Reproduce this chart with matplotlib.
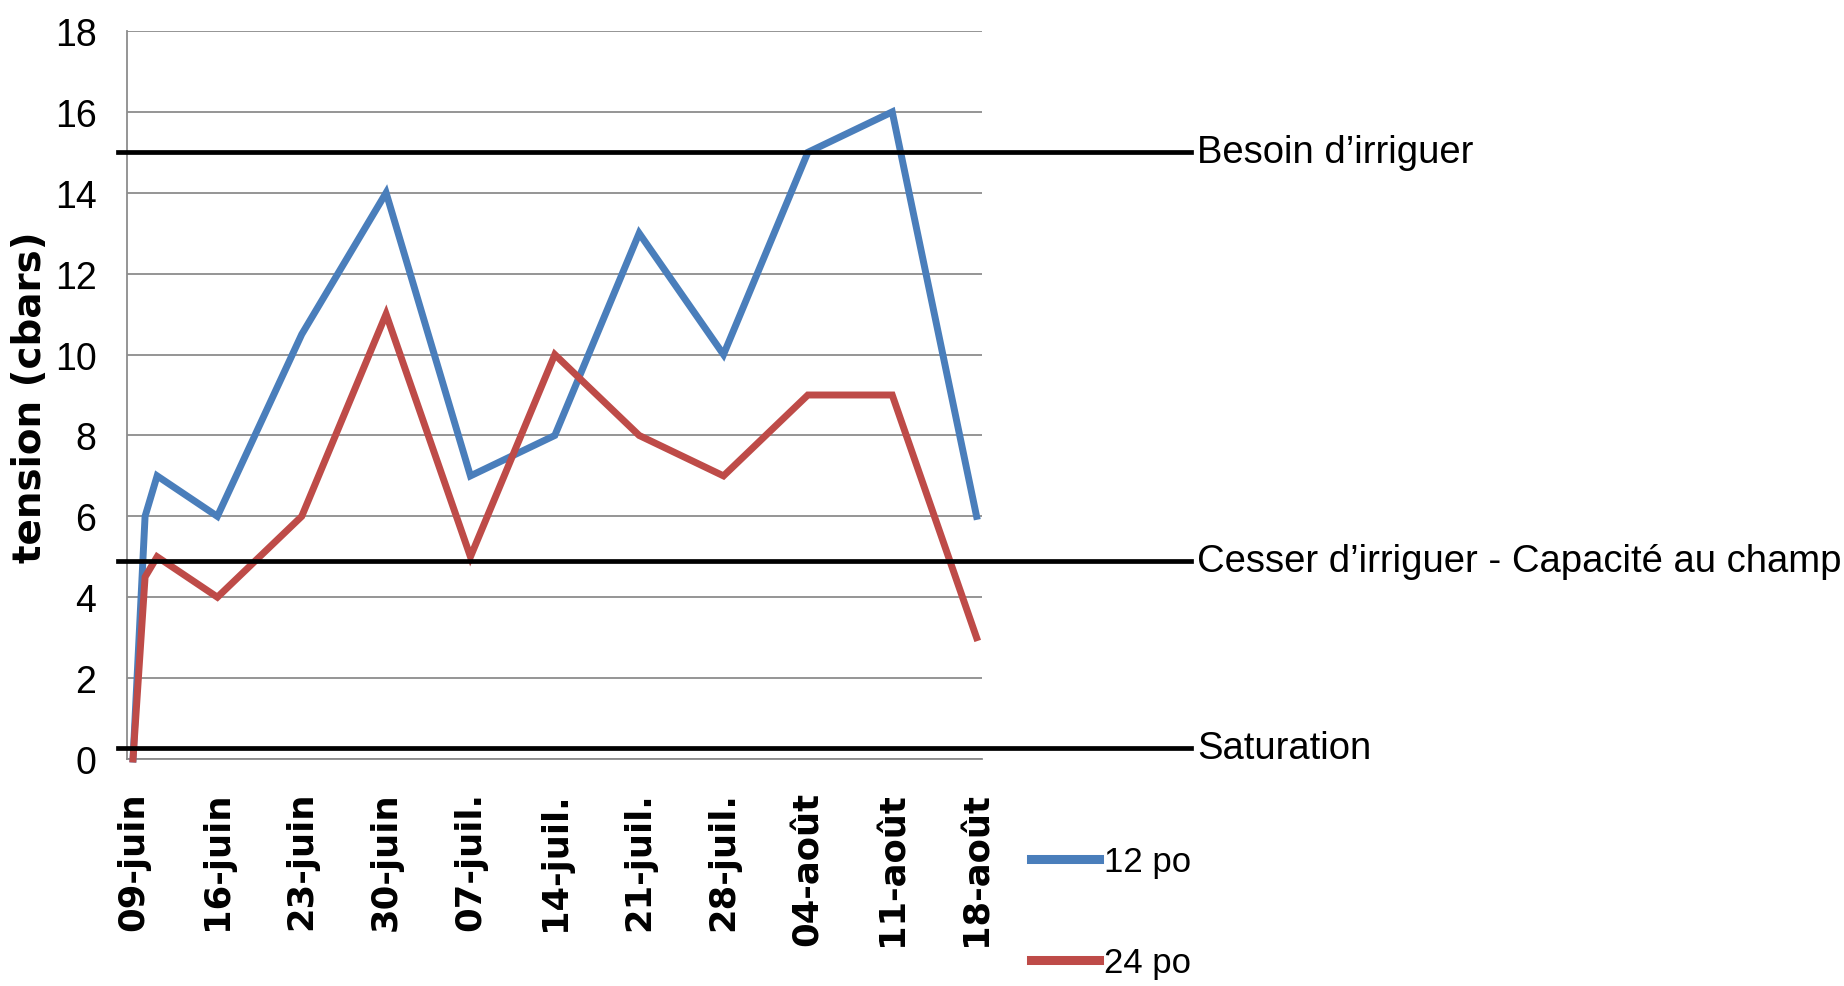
import matplotlib
matplotlib.use("Agg")
import matplotlib.pyplot as plt
import matplotlib.dates as mdates
import matplotlib.transforms as mtransforms
from matplotlib import font_manager as fm
import pandas as pd

# ---------------- data ----------------
dates = ["2011-06-09", "2011-06-10", "2011-06-11", "2011-06-16", "2011-06-23",
         "2011-06-30", "2011-07-07", "2011-07-14", "2011-07-21", "2011-07-28",
         "2011-08-04", "2011-08-11", "2011-08-18"]
tension_12po = [0, 6, 7, 6, 10.5, 14, 7, 8, 13, 10, 15, 16, 6]
tension_24po = [0, 4.5, 5, 4, 6, 11, 5, 10, 8, 7, 9, 9, 3]
series_names = ["12 po", "24 po"]

tick_dates = ["2011-06-09", "2011-06-16", "2011-06-23", "2011-06-30", "2011-07-07",
              "2011-07-14", "2011-07-21", "2011-07-28", "2011-08-04", "2011-08-11",
              "2011-08-18"]
tick_labels = ["09-juin", "16-juin", "23-juin", "30-juin", "07-juil.", "14-juil.",
               "21-juil.", "28-juil.", "04-août", "11-août", "18-août"]
y_ticks = [0, 2, 4, 6, 8, 10, 12, 14, 16, 18]

threshold_levels = [15, 4.9, 0.27]
threshold_labels = ["Besoin d\u2019irriguer",
                    "Cesser d\u2019irriguer - Capacité au champ",
                    "Saturation"]

# ---------------- figure ----------------
TXT = "Liberation Sans"
W, H = 1844, 987
fig = plt.figure(figsize=(W / 100, H / 100), dpi=100)
ax = fig.add_axes([127 / W, 1 - 760 / H, (982 - 127) / W, (760 - 32) / H])

x = pd.to_datetime(dates)
xt = pd.to_datetime(tick_dates)

blue = "#4a7ebb"
red = "#be4b48"
l1, = ax.plot(x, tension_12po, color=blue, lw=5.0, solid_joinstyle="miter",
              zorder=3, clip_on=False)
l2, = ax.plot(x, tension_24po, color=red, lw=5.0, solid_joinstyle="miter",
              zorder=4, clip_on=False)

x0 = mdates.date2num(xt[0]) - 0.5
x1 = mdates.date2num(xt[-1]) + 0.45
ax.set_xlim(x0, x1)
ax.set_ylim(0, 18)

ax.set_yticks(y_ticks)
ax.set_yticklabels([str(v) for v in y_ticks], family=TXT, fontsize=27)
ax.set_xticks(mdates.date2num(xt))
ax.set_xticklabels(tick_labels, rotation=90, family="DejaVu Sans", fontsize=25.5,
                   fontweight="bold", va="top", ha="center")
ax.tick_params(axis="y", length=0, pad=22)
ax.tick_params(axis="x", length=0, pad=23)

ax.grid(axis="y", color="#8c8c8c", lw=1.3, zorder=1)
ax.set_axisbelow(True)
for s in ["top", "right"]:
    ax.spines[s].set_visible(False)
for s in ["left", "bottom"]:
    ax.spines[s].set_color("#8c8c8c")
    ax.spines[s].set_linewidth(1.3)

fig.text(30 / W, 1 - 397 / H, "tension (cbars)", rotation=90, ha="center", va="center",
         family="DejaVu Sans", fontweight="bold", fontsize=28)

# threshold lines spanning beyond the plot area
trans = mtransforms.blended_transform_factory(fig.transFigure, ax.transData)
for lev, lab in zip(threshold_levels, threshold_labels):
    ax.plot([118 / W, 1191 / W], [lev, lev], color="black", lw=3.4, transform=trans,
            clip_on=False, zorder=5)
    ax.text(1197 / W, lev, lab, transform=trans, ha="left", va="center",
            family=TXT, fontsize=27.5, clip_on=False)

leg = fig.legend([l1, l2], series_names, loc="upper left",
                 bbox_to_anchor=(1031 / W, 1 - 846 / H), frameon=False,
                 prop=fm.FontProperties(family=TXT, size=25),
                 handlelength=1.95, handletextpad=0.15, labelspacing=1.95,
                 borderpad=0, borderaxespad=0)
for h in leg.get_lines():
    h.set_linewidth(6.5)

fig.savefig("out.png", dpi=100)
